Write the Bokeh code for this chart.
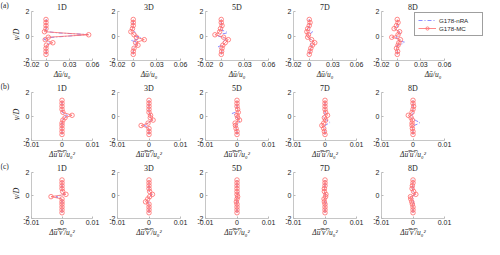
from bokeh.plotting import figure
from bokeh.layouts import column, row
from bokeh.models import FixedTicker, Label, Range1d
from bokeh.embed import file_html
from bokeh.resources import INLINE

# ---------------- data ----------------
col_names = ["1D", "3D", "5D", "7D", "8D"]
row_tags = ["(a)", "(b)", "(c)"]
x_labels = ["Δū/u₀", "Δu̅′̅u̅′̅/u₀²", "Δu̅′̅v̅′̅/u₀²"]
y_label = "y/D"
x_limits = [(-0.02, 0.06), (-0.01, 0.01), (-0.01, 0.01)]
x_ticks = [[-0.02, 0, 0.03, 0.06], [-0.01, 0, 0.01], [-0.01, 0, 0.01]]
x_tick_labels = [["-0.02", "0", "0.03", "0.06"], ["-0.01", "0", "0.01"], ["-0.01", "0", "0.01"]]
y_ticks = [-2, 0, 2]
y_tick_labels = ["-2", "0", "2"]

y_mc = [-1.5, -1.25, -1.0, -0.75, -0.55, -0.3, -0.1, 0.1, 0.35, 0.6, 0.85, 1.1, 1.35]
y_nra = [-1.5, -1.375, -1.25, -1.125, -1.0, -0.875, -0.75, -0.625, -0.5, -0.375, -0.25, -0.125,
         0.0, 0.125, 0.25, 0.375, 0.5, 0.625, 0.75, 0.875, 1.0, 1.125, 1.25, 1.375]

mc_a_1D = [-0.001, -0.001, -0.001, -0.0005, 0.008, -0.002, 0.002, 0.055, -0.003, -0.001, -0.001, -0.001, -0.001]
mc_a_3D = [0, 0, 0.001, 0.006, 0.003, 0.014, 0.004, 0.001, -0.003, -0.001, 0, 0, 0]
mc_a_5D = [0, 0.0005, 0.001, 0.002, 0.005, 0.009, 0.003, -0.008, -0.002, -0.001, 0.001, 0, 0]
mc_a_7D = [0, 0.001, 0.002, 0.004, 0.007, 0.003, -0.002, -0.001, -0.003, -0.002, 0, 0.001, 0]
mc_a_8D = [0, 0.0005, -0.001, 0.001, 0.002, 0.004, -0.007, 0.001, 0.003, -0.004, -0.001, 0.001, 0]
mc_b_1D = [0, 0, 0, 0, 0, 0.0003, 0.001, 0.0033, 0.0003, 0, 0, 0, 0]
mc_b_3D = [0, 0, 0, -0.0025, -0.0003, 0.0013, 0.0004, 0.0005, 0, 0, 0, 0, 0]
mc_b_5D = [0, 0, -0.0003, -0.0005, -0.0006, 0.0008, 0.0002, 0, 0.0004, 0.0002, 0, 0, 0]
mc_b_7D = [0, -0.0002, -0.0004, -0.001, -0.0004, 0.0002, -0.0002, 0.0008, 0.0002, 0, 0, 0, 0]
mc_b_8D = [0, 0, -0.0002, -0.0003, -0.0003, -0.0002, -0.0006, -0.0015, -0.0003, 0, 0.0002, 0, 0]
mc_c_1D = [0, 0, 0, 0, 0, 0, -0.0036, 0.0013, 0.0002, 0, 0, 0, 0]
mc_c_3D = [0, 0, 0, 0, -0.0011, -0.0004, 0.0002, 0.0011, 0.0002, 0, 0, 0, 0]
mc_c_5D = [0, 0, 0, 0, -0.0002, 0, 0.0002, 0, 0, 0, 0, 0, 0]
mc_c_7D = [0, 0, 0, 0, -0.0002, -0.0003, 0.0002, 0.0003, -0.0002, -0.0002, 0, 0, 0]
mc_c_8D = [0, 0, 0, -0.0002, -0.0004, -0.0007, -0.0008, 0.0009, 0.0002, -0.0003, -0.0002, 0, 0]

nra_a_1D = [-0.0005, -0.0005, -0.0005, -0.0005, -0.0005, 0.0, 0.001, 0.003, 0.004, -0.001, -0.004, 0.004,
            0.03, 0.054, 0.015, -0.002, -0.001, -0.0005, -0.0005, -0.0005, -0.0005, -0.0005, -0.0005, -0.0005]
nra_a_3D = [0, 0, 0, 0, 0, 0.002, 0.004, 0.002, 0.006, -0.003, 0.006, 0.01,
            0.003, 0.002, 0.004, 0.001, -0.001, 0, 0, 0, 0, 0, 0, 0]
nra_a_5D = [0, 0, 0.001, 0, -0.002, -0.004, 0.001, 0.003, 0.002, 0.004, 0.006, 0.002,
            -0.004, -0.003, 0.008, 0.006, -0.001, 0.001, 0.001, 0, 0, 0, 0, 0]
nra_a_7D = [0, 0, 0.001, 0.001, 0.002, 0.004, 0.003, 0.001, 0.004, 0.002, 0.001, -0.001,
            -0.001, -0.002, 0.003, 0.004, -0.001, -0.002, 0, 0.001, 0, 0, 0, 0]
nra_a_8D = [0, 0, 0, 0.001, -0.001, -0.002, 0.001, 0.007, 0.009, 0.002, 0.002, -0.002,
            0.001, 0.004, 0.004, 0.002, -0.001, -0.002, 0, 0.001, 0, 0.001, 0, 0]
nra_b_1D = [0, 0, 0, 0, 0, 0, 0, 0, 0, 0, 0.0002, 0.0005,
            0.0012, 0.002, 0.0005, 0.0001, 0, 0, 0, 0, 0, 0, 0, 0]
nra_b_3D = [0, 0, 0, 0, 0, -0.0005, -0.0015, -0.0005, -0.0004, 0.0005, 0.001, 0.0005,
            0.0002, 0.0005, 0.0002, 0, 0, 0, 0, 0, 0, 0, 0, 0]
nra_b_5D = [0, 0, 0, 0, -0.0002, 0, -0.0004, 0.0002, 0.0008, 0.0008, 0.0006, 0,
            -0.0002, -0.0005, -0.0016, -0.0002, 0.0002, 0.0001, 0, 0, 0, 0, 0, 0]
nra_b_7D = [0, 0, 0, 0, 0, -0.0003, 0, 0.0008, 0.0016, 0.001, 0.0002, -0.0005,
            -0.0006, -0.0002, 0, 0, 0, 0, 0, 0, 0, 0, 0, 0]
nra_b_8D = [0, 0, 0, 0, 0, 0, 0.0003, 0.0015, 0.0022, 0.0012, 0.0004, -0.0002,
            -0.0005, -0.0003, 0, 0, 0, 0, 0, 0, 0, 0, 0, 0]
nra_c_1D = [0, 0, 0, 0, 0, 0, 0, 0, 0, 0, -0.0002, -0.002,
            -0.0005, 0.0008, 0.0003, 0, 0, 0, 0, 0, 0, 0, 0, 0]
nra_c_3D = [0, 0, 0, 0, 0, 0, 0, 0, -0.0005, -0.0003, 0.0002, 0.0003,
            0.0006, 0.0008, 0.0002, 0, 0, 0, 0, 0, 0, 0, 0, 0]
nra_c_5D = [0, 0, 0, 0, 0, 0, -0.0002, 0, 0, 0, 0, 0,
            0, 0.0002, 0.0006, 0.0001, 0, 0, 0, 0, 0, 0, 0, 0]
nra_c_7D = [0, 0, 0, 0, 0, 0, 0.0004, 0.0001, 0, 0.0001, 0.0003, 0,
            0.0002, 0, -0.0001, 0, 0, 0, 0, 0, 0, 0, 0, 0]
nra_c_8D = [0, 0, 0, 0, 0, 0, 0.0004, 0.0001, 0.0002, 0, 0, -0.0004,
            0.0003, 0.0006, 0.0001, 0, 0, 0, 0, 0, 0, 0, 0, 0]

mc_rows = [[mc_a_1D, mc_a_3D, mc_a_5D, mc_a_7D, mc_a_8D],
           [mc_b_1D, mc_b_3D, mc_b_5D, mc_b_7D, mc_b_8D],
           [mc_c_1D, mc_c_3D, mc_c_5D, mc_c_7D, mc_c_8D]]
nra_rows = [[nra_a_1D, nra_a_3D, nra_a_5D, nra_a_7D, nra_a_8D],
            [nra_b_1D, nra_b_3D, nra_b_5D, nra_b_7D, nra_b_8D],
            [nra_c_1D, nra_c_3D, nra_c_5D, nra_c_7D, nra_c_8D]]

# ---------------- layout / style ----------------
LAB_W = 20                       # left strip holding (a)/(b)/(c) and y/D
FRAME_W = 63
col_w = [84, 88, 88, 88, 116]
col_bl = [9, 13, 13, 13, 13]
row_h = [81, 80, 78]
tag_y = [4.5, 86, 166]           # strip positions (px from top) of (a)/(b)/(c)
ylab_y = [34, 114, 193]          # strip positions (px from top) of y/D
TOTAL_H = sum(row_h)

RED = "#ff6a6a"
BLUE = "#7070ff"
AXIS = "#b8b8b8"
TXT = "#262626"
SANS = "Liberation Sans"
SERIF = "Liberation Serif"

# left label strip (frame == whole canvas, y measured in px from top)
strip = figure(width=LAB_W, height=TOTAL_H, x_range=Range1d(0, LAB_W), y_range=Range1d(TOTAL_H, 0),
               output_backend="svg", toolbar_location=None, min_border=0)
strip.xaxis.visible = False
strip.yaxis.visible = False
strip.xgrid.visible = False
strip.ygrid.visible = False
strip.outline_line_color = None
for r in range(3):
    strip.add_layout(Label(x=0, y=tag_y[r], text=row_tags[r], text_align="left",
                           text_baseline="middle", text_font=SERIF, text_font_size="7.5px",
                           text_color=TXT))
    strip.add_layout(Label(x=16, y=ylab_y[r], text=y_label, angle=1.5708, text_align="center",
                           text_baseline="middle", text_font=SERIF, text_font_style="italic",
                           text_font_size="8px", text_color=TXT))

rows = []
for r in range(3):
    figs = []
    for c in range(5):
        lo, hi = x_limits[r]
        legend_panel = (r == 0 and c == 4)
        if legend_panel:
            frame_w = col_w[c] - col_bl[c]
            hi_view = lo + (hi - lo) * frame_w / FRAME_W
            br = 0
        else:
            hi_view = hi
            br = col_w[c] - col_bl[c] - FRAME_W
        p = figure(width=col_w[c], height=row_h[r], x_range=Range1d(lo, hi_view), y_range=Range1d(-2, 2),
                   output_backend="svg", toolbar_location=None,
                   min_border_left=col_bl[c], min_border_right=br,
                   min_border_top=0, min_border_bottom=0)
        p.outline_line_color = None
        p.xgrid.visible = False
        p.ygrid.visible = False
        p.background_fill_color = "white"
        p.border_fill_color = "white"

        p.title.text = col_names[c]
        p.title.text_font = SERIF
        p.title.text_font_style = "normal"
        p.title.text_font_size = "8px"
        p.title.text_color = TXT
        p.title.standoff = 0
        p.title.offset = 0
        if legend_panel:
            p.title.align = "left"
            p.title.offset = FRAME_W / 2 - 5
        else:
            p.title.align = "center"

        for ax in (p.xaxis[0], p.yaxis[0]):
            ax.axis_line_color = AXIS
            ax.axis_line_width = 0.8
            ax.major_tick_line_color = AXIS
            ax.major_tick_out = 0
            ax.major_tick_in = 2
            ax.minor_tick_line_color = None
            ax.minor_tick_out = 0
            ax.minor_tick_in = 0
            ax.major_label_text_font = SANS
            ax.major_label_text_font_size = "7px"
            ax.major_label_text_color = TXT
            ax.major_label_standoff = 1
        p.xaxis.ticker = FixedTicker(ticks=x_ticks[r], minor_ticks=[])
        p.xaxis.major_label_overrides = {t: s for t, s in zip(x_ticks[r], x_tick_labels[r])}
        p.xaxis.bounds = (lo, hi)
        p.yaxis.ticker = FixedTicker(ticks=y_ticks, minor_ticks=[])
        p.yaxis.major_label_overrides = {t: s for t, s in zip(y_ticks, y_tick_labels)}
        p.yaxis.major_label_standoff = 2

        p.xaxis.axis_label = x_labels[r]
        p.xaxis.axis_label_text_font = SERIF
        p.xaxis.axis_label_text_font_style = "italic"
        p.xaxis.axis_label_text_font_size = "7.5px"
        p.xaxis.axis_label_text_color = TXT
        p.xaxis.axis_label_standoff = 0

        kw_n = {}
        kw_m = {}
        if legend_panel:
            kw_n = dict(legend_label="G178-nRA")
            kw_m = dict(legend_label="G178-MC")
        p.line(nra_rows[r][c], y_nra, line_color=BLUE, line_width=0.8, line_dash="4 2 1 2", **kw_n)
        p.line(mc_rows[r][c], y_mc, line_color=RED, line_width=0.8, **kw_m)
        p.scatter(mc_rows[r][c], y_mc, marker="circle", size=4.5, line_color=RED, line_width=0.8,
                  fill_color=None, **kw_m)

        if legend_panel:
            lg = p.legend[0]
            lg.location = "top_right"
            lg.margin = 1
            lg.padding = 3
            lg.spacing = 0
            lg.glyph_height = 8
            lg.glyph_width = 18
            lg.label_height = 8
            lg.label_width = 40
            lg.label_standoff = 3
            lg.label_text_font = SANS
            lg.label_text_font_size = "6.2px"
            lg.label_text_color = TXT
            lg.border_line_color = "#404040"
            lg.border_line_width = 0.6
            lg.background_fill_alpha = 1.0
        figs.append(p)
    rows.append(row(*figs, spacing=0))

layout = row(strip, column(*rows, spacing=0), spacing=0)
open("out.html", "w").write(file_html(layout, INLINE))
